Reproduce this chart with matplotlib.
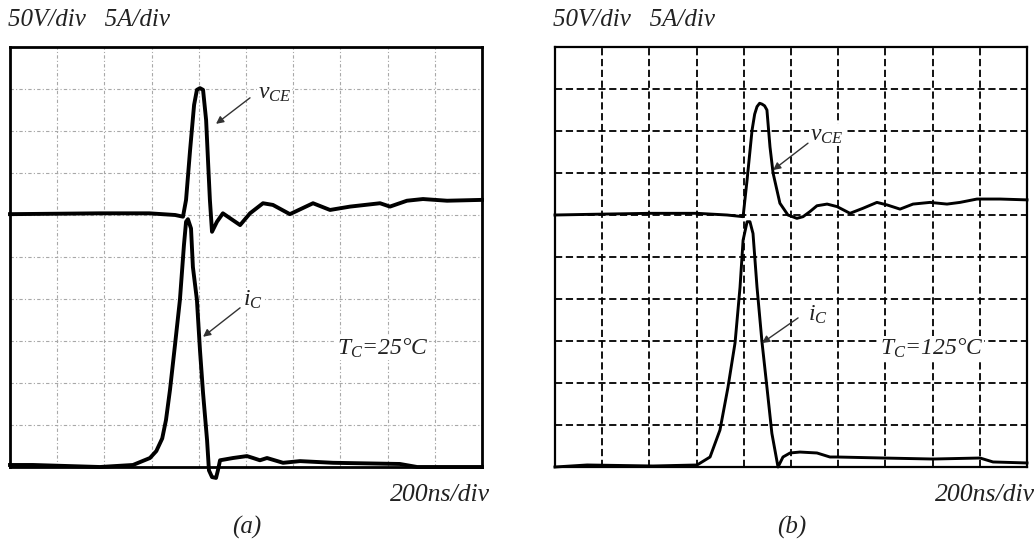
import matplotlib.pyplot as plt
import numpy as np

plt.rcParams['font.family'] = ['Liberation Serif', 'DejaVu Serif']
plt.rcParams['mathtext.fontset'] = 'custom'
plt.rcParams['mathtext.it'] = 'Liberation Serif:italic'
plt.rcParams['mathtext.rm'] = 'Liberation Serif'

# scope settings
V_DIV = 50.0    # V per division
A_DIV = 5.0     # A per division
T_DIV = 200.0   # ns per division
VCE_REF = 6.0   # vce channel reference (divisions from bottom)
IC_REF = 0.0    # ic channel reference

# (a) Tc = 25 C
vce_a_t = [0, 380, 590, 700, 733, 746, 763, 780, 792, 805, 818, 831, 839, 847, 856,
           877, 902, 975, 1017, 1072, 1114, 1186, 1284, 1356, 1441, 1568, 1610,
           1682, 1750, 1852, 2000]
vce_a_v = [1, 2, 2, 0, -2, 18, 77, 131, 149, 151, 149, 113, 65, 18, -20,
           -8, 2, -12, 2, 14, 12, 1, 14, 6, 10, 14, 10, 17, 19, 17, 18]

ic_a_t = [0, 97, 381, 521, 593, 620, 645, 661, 678, 699, 720, 737, 746, 754, 767,
          775, 792, 805, 818, 835, 843, 856, 873, 881, 890, 945, 1004, 1030,
          1059, 1089, 1157, 1229, 1369, 1652, 1725, 2000]
ic_a_i = [0.24, 0.24, 0.0, 0.24, 1.07, 1.9, 3.4, 5.6, 9.2, 14.5, 19.9, 26.4, 29.2,
          29.5, 28.4, 23.8, 19.9, 13.9, 8.8, 3.2, -0.4, -1.2, -1.3, -0.4, 0.8,
          1.07, 1.3, 1.07, 0.8, 1.07, 0.5, 0.7, 0.5, 0.36, 0.0, 0.0]

# (b) Tc = 125 C
vce_b_t = [0, 191, 403, 602, 729, 797, 814, 835, 846, 856, 867, 877, 888, 898, 911,
           924, 953, 987, 1025, 1051, 1080, 1110, 1153, 1195, 1250, 1305, 1364,
           1407, 1462, 1517, 1589, 1661, 1716, 1788, 1886, 2000]
vce_b_v = [0, 1, 2, 2, 0, -2, 42, 101, 120, 129, 133, 132, 130, 125, 81,
           50, 14, 0, -4, -2, 4, 11, 13, 10, 2, 8, 15, 12, 7, 13, 15, 13, 15,
           19, 19, 18]

ic_b_t = [0, 136, 415, 602, 657, 699, 733, 763, 784, 797, 814, 826, 839, 856, 877,
          898, 919, 945, 966, 996, 1038, 1110, 1165, 1195, 1390, 1602, 1801,
          1856, 2000]
ic_b_i = [0.0, 0.24, 0.12, 0.24, 1.19, 4.4, 9.5, 14.8, 21.4, 27.0, 29.2, 29.2,
          27.8, 21.4, 14.9, 9.5, 4.0, 0.0, 1.19, 1.67, 1.78, 1.67, 1.19, 1.19,
          1.07, 0.95, 1.07, 0.6, 0.48]

W, H = 1034, 542
fig = plt.figure(figsize=(W / 100, H / 100), dpi=100)


def px(x, y):
    return x / W, 1 - y / H


panels = [
    dict(left=10, t1=vce_a_t, v=vce_a_v, t2=ic_a_t, i=ic_a_i, grid='light',
         lw=2.8, tc=r'$T_C$=25°C', tag='(a)',
         vlab=(1051, 8.9), varr=((1017, 8.79), (873, 8.17)),
         ilab=(987, 3.98), iarr=((975, 3.79), (818, 3.1)), tcpos=(1385, 2.83)),
    dict(left=555, t1=vce_b_t, v=vce_b_v, t2=ic_b_t, i=ic_b_i, grid='dark',
         lw=2.1, tc=r'$T_C$=125°C', tag='(b)',
         vlab=(1080, 7.9), varr=((1072, 7.71), (924, 7.07)),
         ilab=(1072, 3.62), iarr=((1030, 3.55), (877, 2.95)), tcpos=(1377, 2.83)),
]

for p in panels:
    ax = fig.add_axes([p['left'] / W, (H - 467) / H, 472 / W, 420 / H])
    ax.set_xlim(0, 10 * T_DIV)
    ax.set_ylim(0, 10)
    ax.set_xticks(np.arange(1, 10) * T_DIV)
    ax.set_yticks(np.arange(1, 10))
    ax.tick_params(length=0, labelbottom=False, labelleft=False)
    if p['grid'] == 'light':
        ax.grid(True, color='#a8a8a8', lw=0.8, linestyle=(0, (3, 2, 1, 2)))
        for s in ax.spines.values():
            s.set_linewidth(2.0)
    else:
        ax.grid(True, color='black', lw=1.3, linestyle=(0, (4, 2)))
        for s in ax.spines.values():
            s.set_linewidth(1.6)
    ax.set_axisbelow(True)

    ax.plot(p['t1'], np.array(p['v']) / V_DIV + VCE_REF, color='black',
            lw=p['lw'], solid_joinstyle='round', clip_on=False, zorder=3)
    ax.plot(p['t2'], np.array(p['i']) / A_DIV + IC_REF, color='black',
            lw=p['lw'], solid_joinstyle='round', clip_on=False, zorder=3)

    ap = dict(arrowstyle='-|>', color='#333333', lw=1.0, mutation_scale=11,
              shrinkA=0, shrinkB=0)
    ax.annotate('', xy=p['varr'][1], xytext=p['varr'][0], arrowprops=ap)
    ax.annotate('', xy=p['iarr'][1], xytext=p['iarr'][0], arrowprops=ap)
    bb = dict(facecolor='white', edgecolor='none', pad=0.5)
    ax.text(*p['vlab'], r'$v_{CE}$', fontsize=17, va='center', ha='left',
            bbox=bb, color='#222222')
    ax.text(*p['ilab'], r'$i_C$', fontsize=17, va='center', ha='left',
            bbox=bb, color='#222222')
    ax.text(*p['tcpos'], p['tc'], fontsize=17, style='italic', va='center',
            ha='left', bbox=bb, color='#222222')

    fig.text(*px(p['left'] - 2, 20), '50V/div   5A/div', fontsize=18,
             style='italic', va='center', ha='left', color='#222222')
    fig.text(*px(p['left'] + 480, 495), '200ns/div', fontsize=18.5,
             style='italic', va='center', ha='right', color='#222222')
    fig.text(*px(p['left'] + 237, 527), p['tag'], fontsize=18,
             style='italic', va='center', ha='center', color='#222222')

fig.savefig('out.png', dpi=100, facecolor='white')
